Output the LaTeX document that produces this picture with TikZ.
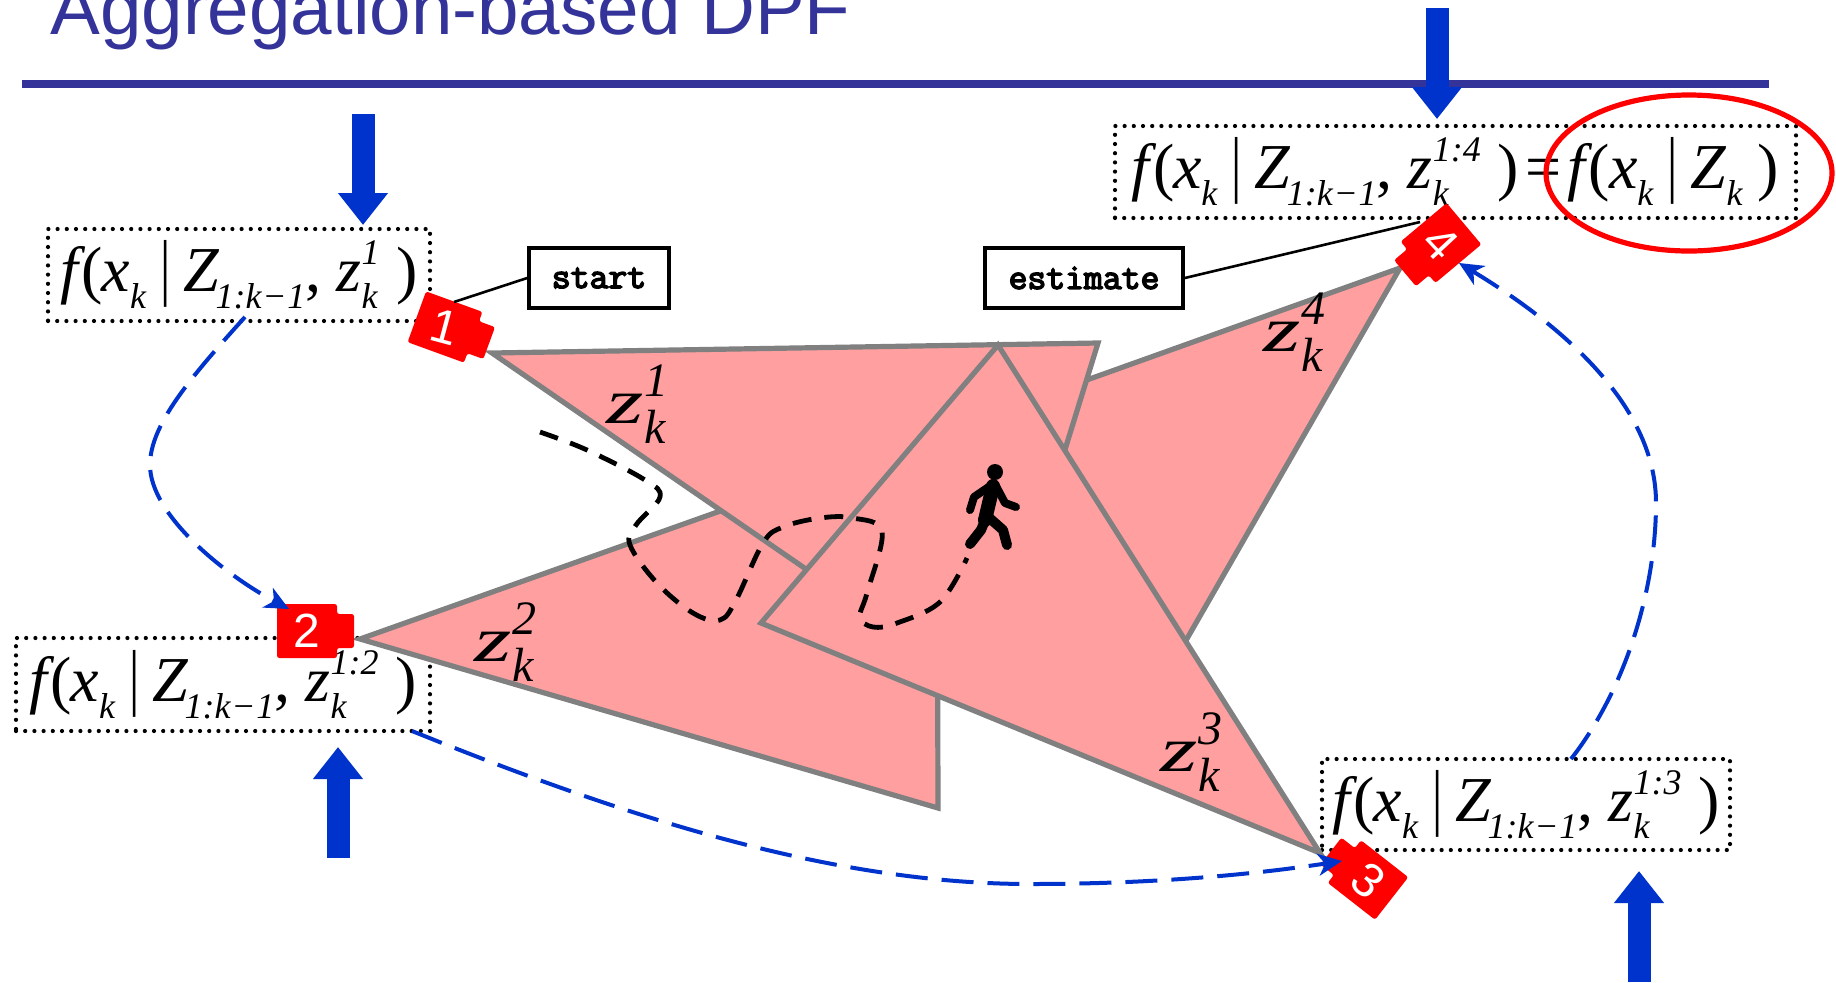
\documentclass[tikz,border=0pt]{standalone}
\usepackage{fontspec}
\usepackage{graphicx}
\setmainfont{Liberation Serif}
\newfontfamily\arialf{Liberation Sans}
\newfontfamily\tagf[FakeBold=4]{Latin Modern Mono}
\usetikzlibrary{arrows.meta}
\definecolor{titleblue}{HTML}{333399}
\definecolor{arrowblue}{HTML}{0033CC}
\definecolor{trifill}{HTML}{FF9F9F}
\definecolor{triedge}{HTML}{808080}
\definecolor{camred}{HTML}{FF0000}
\newcommand{\subfont}{\fontsize{18}{18}\selectfont\itshape}
\newcommand{\bsub}[1]{\raisebox{-.27em}{\subfont #1}}
\newcommand{\zss}[1]{\rlap{\raisebox{-.27em}{\subfont k}}\raisebox{.42em}{\subfont #1}}
\newcommand{\barsym}{\kern.22em\scalebox{.8}[1.15]{\textbar}\kern.2em}
\newcommand{\fcore}{\textit{f}\kern-.06em(\kern-.02em\textit{x}\bsub{k}\barsym\textit{Z}\kern-.06em\bsub{1:k\kern.02em−\kern.02em1},\kern.24em}
\newcommand{\zlab}[1]{\scalebox{1.5}[1]{\fontsize{32}{32}\selectfont\itshape z}\kern.5pt\rlap{\raisebox{13.5pt}{\itshape #1}}\raisebox{-10pt}{\itshape k}}
\newcommand{\camera}[6]{%
  \begin{scope}[shift={(#2,#3)},rotate=#4]
    \fill[camred,rounded corners=1.2pt] (-30,-27) -- (30,-27) -- (30,-17) -- (47,-17) -- (47,17) -- (30,17) -- (30,27) -- (-30,27) -- cycle;
  \end{scope}
  \node[camnum,rotate=#5] (#1) at (#2,#3) {#6};}
\tikzset{
  x=0.5pt,y=-0.5pt,
  dotbox/.style={draw=black,line width=2.1pt,line cap=round,dash pattern=on 0pt off 4.6pt,inner sep=0pt,font=\fontsize{32}{32}\selectfont},
  tagbox/.style={draw=black,line width=1.8pt,fill=white,inner sep=0pt,minimum height=30pt,font=\tagf\fontsize{18.3}{18.3}\selectfont},
  tagline/.style={draw=black,line width=1.3pt},
  tri/.style={fill=trifill,draw=triedge,line width=2.6pt,line join=miter},
  bigarrow/.style={arrowblue,line width=11.5pt,-{Triangle[width=24pt,length=16pt]}},
  flow/.style={arrowblue,line width=2pt,dash pattern=on 16pt off 7pt,-{Stealth[length=12pt,width=11pt,inset=3.5pt]}},
  track/.style={draw=black,line width=2.4pt,dash pattern=on 9.5pt off 6.5pt},
  camnum/.style={text=white,font=\arialf\fontsize{24}{24}\selectfont,inner sep=0pt},
  zlabel/.style={inner sep=0pt,font=\fontsize{24}{24}\selectfont},
  walker/.style={draw=black,line cap=round,line join=round}
}
\begin{document}
\begin{tikzpicture}
\useasboundingbox (0,0) rectangle (1836,982);
% title
\node[anchor=base west,inner sep=0pt,text=titleblue,font=\arialf\fontsize{37.3}{37.3}\selectfont] (title) at (50,34) {Aggregation-based DPF};
\coordinate (ruleL) at (22,84); \coordinate (ruleR) at (1769,84);
\draw[titleblue,line width=4pt] (ruleL) -- (ruleR);
% dotted boxes
\node[dotbox,minimum width=191pt,minimum height=46pt] (b1) at (239,275) {\fcore\textit{z}\zss{1}\kern.26em)};
\node[dotbox,minimum width=207pt,minimum height=46.5pt] (b2) at (223,684.5) {\fcore\textit{z}\zss{1:2}\kern.26em)};
\node[dotbox,minimum width=204pt,minimum height=45.5pt] (b3) at (1526,804.5) {\fcore\textit{z}\zss{1:3}\kern.26em)};
\node[dotbox,minimum width=340.5pt,minimum height=46pt] (b4) at (1455.5,172) {\fcore\textit{z}\zss{1:4}\kern.26em)\kern.1em=\kern.1em\textit{f}\kern-.06em(\kern-.02em\textit{x}\bsub{k}\barsym\textit{Z}\bsub{k}\kern.24em)};
% triangles
\draw[tri] (1400,268) -- (1000,411) -- (1150,703) -- cycle;
\draw[tri] (360,639) -- (937,434) -- (938,808) -- cycle;
\draw[tri] (492,353) -- (1098,343) -- (989,695) -- cycle;
\draw[tri] (1320,853) -- (761,623) -- (998,345) -- cycle;
% triangle labels
\node[zlabel] (z1) at (636,404) {\zlab{1}};
\node[zlabel] (z2) at (504,642) {\zlab{2}};
\node[zlabel] (z3) at (1190,752) {\zlab{3}};
\node[zlabel] (z4) at (1293,332) {\zlab{4}};
% track
\draw[track] plot[smooth,tension=.6] coordinates {(540,432) (587,450) (645,480) (660,497) (636,525) (630,545) (657,583) (693,613) (720,620) (736,600) (763,543) (783,527) (820,518) (853,518) (882,532) (867,593) (860,617) (873,627) (897,623) (940,602) (967,558)};
% walker
\fill[black] (995,472) circle (8);
\draw[walker,line width=7pt] (993,486) -- (985,520);
\draw[walker,line width=4pt] (993,484) -- (974,497) -- (970,510);
\draw[walker,line width=4pt] (996,486) -- (1005,503) -- (1016,507);
\draw[walker,line width=5pt] (986,518) -- (981,530) -- (970,544);
\draw[walker,line width=5pt] (986,515) -- (1003,530) -- (1007,545);
% cameras
\camera{c1}{445}{327}{-20}{-15}{1}
\camera{c2}{307}{631}{0}{0}{2}
\camera{c3}{1368}{880}{142}{-40}{3}
\camera{c4}{1441}{243}{220}{-47}{4}
% tag boxes and their lines
\node[tagbox,minimum width=70pt] (start) at (599,278) {start};
\node[tagbox,minimum width=99pt] (estimate) at (1084,278) {estimate};
\coordinate (c1a) at (454,302);
\coordinate (c4a) at (1420,222);
\draw[tagline] (start.west) -- (c1a);
\draw[tagline] (estimate.east) -- (c4a);
% flow connectors
\coordinate (f1s) at (245,317); \coordinate (f1e) at (289,609);
\coordinate (f2s) at (412,731); \coordinate (f2e) at (1342,861);
\coordinate (f3s) at (1571,759); \coordinate (f3e) at (1459,263);
\draw[flow] (f1s) .. controls (190,378) and (150,425) .. (150,465) .. controls (150,515) and (225,575) .. (f1e);
\draw[flow] (f2s) .. controls (620,815) and (830,884) .. (1030,884) .. controls (1150,884) and (1250,875) .. (f2e);
\draw[flow] (f3s) .. controls (1625,690) and (1656,590) .. (1656,503) .. controls (1656,410) and (1570,330) .. (f3e);
% big arrows
\coordinate (a1s) at (363,114); \coordinate (a1e) at (363,225);
\coordinate (a2s) at (338,858); \coordinate (a2e) at (338,747);
\coordinate (a3s) at (1639,982); \coordinate (a3e) at (1639,871);
\coordinate (a4s) at (1437,8); \coordinate (a4e) at (1437,119);
\draw[bigarrow] (a1s) -- (a1e);
\draw[bigarrow] (a2s) -- (a2e);
\draw[bigarrow] (a3s) -- (a3e);
\draw[bigarrow] (a4s) -- (a4e);
% ellipse
\draw[camred,line width=2.6pt] (1689,173) ellipse [x radius=143,y radius=78];
\end{tikzpicture}
\end{document}
